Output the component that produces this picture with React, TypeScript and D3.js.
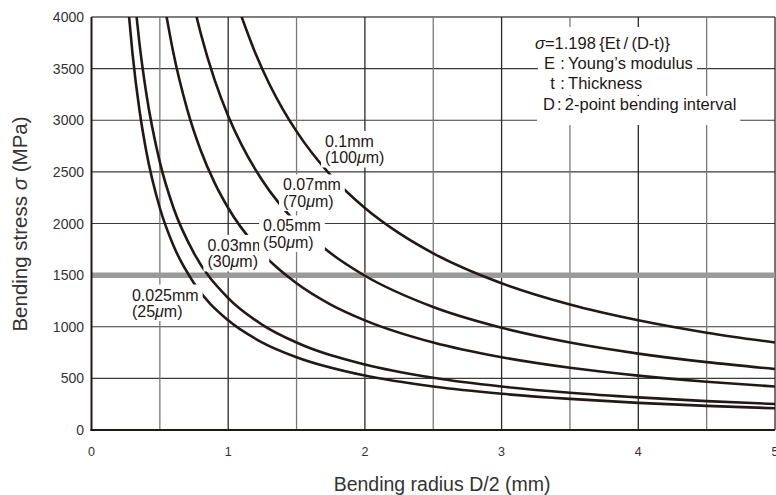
import React, { useEffect, useRef } from 'react';
import * as d3 from 'd3';

const width = 776;
const height = 495;
const font = '"Liberation Sans", Arial, Helvetica, sans-serif';
const ink = '#231815';

const xTicks = [0, 1, 2, 3, 4, 5];
const xGrid = [0.5, 1, 1.5, 2, 2.5, 3, 3.5, 4, 4.5, 5];
const yTicks = [0, 500, 1000, 1500, 2000, 2500, 3000, 3500, 4000];
const limitStress = 1500;

// bending radius D/2 (mm) and stress (MPa)
const radius025 = [0.27, 0.3, 0.35, 0.4, 0.5, 0.6, 0.75, 1, 1.25, 1.5, 2, 2.5, 3, 3.5, 4, 4.5, 5];
const stress025 = [4071, 3646, 3106, 2705, 2150, 1784, 1421, 1062, 847, 705, 527, 421, 351, 301, 263, 234, 210];

const radius030 = [0.32, 0.35, 0.4, 0.5, 0.6, 0.75, 1, 1.25, 1.5, 2, 2.5, 3, 3.5, 4, 4.5, 5];
const stress030 = [4124, 3755, 3267, 2594, 2150, 1711, 1277, 1019, 847, 634, 506, 421, 361, 316, 280, 252];

const radius050 = [0.54, 0.6, 0.7, 0.8, 0.9, 1, 1.25, 1.5, 1.75, 2, 2.5, 3, 3.5, 4, 4.5, 5];
const stress050 = [4071, 3646, 3106, 2705, 2396, 2150, 1711, 1421, 1215, 1062, 847, 705, 603, 527, 468, 421];

const radius070 = [0.76, 0.8, 0.9, 1, 1.1, 1.25, 1.5, 1.75, 2, 2.5, 3, 3.5, 4, 4.5, 5];
const stress070 = [4048, 3837, 3393, 3041, 2756, 2416, 2003, 1711, 1494, 1191, 990, 847, 740, 657, 591];

const radius100 = [1.09, 1.2, 1.3, 1.4, 1.5, 1.75, 2, 2.25, 2.5, 3, 3.5, 4, 4.5, 5];
const stress100 = [4032, 3646, 3354, 3106, 2892, 2466, 2150, 1906, 1711, 1421, 1215, 1062, 942, 847];

const curveRadii = [radius025, radius030, radius050, radius070, radius100];
const curveStress = [stress025, stress030, stress050, stress070, stress100];

// curve labels: top line, micrometre value, anchor (radius, stress) of the top line's baseline
const labelMm = ['0.025mm', '0.03mm', '0.05mm', '0.07mm', '0.1mm'];
const labelUm = ['25', '30', '50', '70', '100'];
const labelR = [0.296, 0.848, 1.255, 1.401, 1.708];
const labelS = [1254, 1734, 1923, 2320, 2741];

const legendLetters = ['E', 't', 'D'];
const legendTexts = ['Young\u2019s modulus', 'Thickness', '2-point bending interval'];

export default function App() {
  const svgRef = useRef<SVGSVGElement>(null);

  useEffect(() => {
    const svg = d3.select(svgRef.current);
    svg.selectAll('*').remove();

    const x = d3.scaleLinear().domain([0, 5]).range([91.5, 775]);
    const y = d3.scaleLinear().domain([0, 4000]).range([430, 17]);
    const [x0, x1] = x.range();
    const [y0, y1] = y.range();

    svg.append('rect').attr('width', width).attr('height', height).attr('fill', '#fff');

    // horizontal grid
    svg
      .append('g')
      .selectAll('line')
      .data(yTicks.slice(1))
      .enter()
      .append('line')
      .attr('x1', x0)
      .attr('x2', x1)
      .attr('y1', (d) => y(d))
      .attr('y2', (d) => y(d))
      .attr('stroke', (d) => (d === 4000 ? '#555' : '#3a3a3a'))
      .attr('stroke-width', (d) => (d === 4000 ? 1.6 : 1.2));

    // vertical grid
    svg
      .append('g')
      .selectAll('line')
      .data(xGrid)
      .enter()
      .append('line')
      .attr('x1', (d) => x(d))
      .attr('x2', (d) => x(d))
      .attr('y1', y1)
      .attr('y2', y0)
      .attr('stroke', (d) => (d % 1 === 0 ? '#2a2a2a' : '#7a7a7a'))
      .attr('stroke-width', 1.3);

    // 1500 MPa reference line
    svg
      .append('line')
      .attr('x1', x0)
      .attr('x2', x1)
      .attr('y1', y(limitStress))
      .attr('y2', y(limitStress))
      .attr('stroke', '#9a9a9a')
      .attr('stroke-width', 5.5);

    // axes
    svg.append('line').attr('x1', x0).attr('x2', x0).attr('y1', y1).attr('y2', y0 + 1)
      .attr('stroke', ink).attr('stroke-width', 2);
    svg.append('line').attr('x1', x0 - 1).attr('x2', x1).attr('y1', y0).attr('y2', y0)
      .attr('stroke', ink).attr('stroke-width', 2);

    // curves
    svg
      .append('clipPath')
      .attr('id', 'plot-clip')
      .append('rect')
      .attr('x', x0)
      .attr('y', y1)
      .attr('width', x1 - x0)
      .attr('height', y0 - y1);

    curveRadii.forEach((radii, k) => {
      const stress = curveStress[k];
      const path = d3
        .line<number>()
        .x((d) => x(d))
        .y((d, i) => y(stress[i]))
        .curve(d3.curveMonotoneX);
      svg
        .append('path')
        .attr('d', path(radii))
        .attr('clip-path', 'url(#plot-clip)')
        .attr('fill', 'none')
        .attr('stroke', ink)
        .attr('stroke-width', 2.6);
    });

    // tick labels
    svg
      .append('g')
      .selectAll('text')
      .data(yTicks)
      .enter()
      .append('text')
      .attr('x', 84)
      .attr('y', (d) => y(d))
      .attr('dy', '0.36em')
      .attr('text-anchor', 'end')
      .attr('font-size', 14)
      .attr('fill', '#333')
      .text((d) => d);

    svg
      .append('g')
      .selectAll('text')
      .data(xTicks)
      .enter()
      .append('text')
      .attr('x', (d) => x(d))
      .attr('y', 456)
      .attr('text-anchor', 'middle')
      .attr('font-size', 12.5)
      .attr('fill', '#333')
      .text((d) => d);

    // axis titles
    svg
      .append('text')
      .attr('x', 442)
      .attr('y', 491)
      .attr('text-anchor', 'middle')
      .attr('font-size', 19.5)
      .attr('fill', '#333')
      .text('Bending radius D/2 (mm)');

    const yTitle = svg
      .append('text')
      .attr('transform', 'translate(27,224) rotate(-90)')
      .attr('text-anchor', 'middle')
      .attr('font-size', 20.5)
      .attr('fill', '#333');
    yTitle.append('tspan').text('Bending stress ');
    yTitle.append('tspan').attr('font-style', 'italic').text('\u03c3');
    yTitle.append('tspan').text(' (MPa)');

    // curve labels with white backing
    labelMm.forEach((mm, k) => {
      const g = svg.append('g');
      const lx = x(labelR[k]);
      const ly = y(labelS[k]);
      const t = g
        .append('text')
        .attr('font-size', 16)
        .attr('fill', ink);
      t.append('tspan').attr('x', lx).attr('y', ly).text(mm);
      const t2 = t.append('tspan').attr('x', lx).attr('y', ly + 16.5);
      t2.append('tspan').text('(' + labelUm[k]);
      t2.append('tspan').attr('font-style', 'italic').text('\u03bc');
      t2.append('tspan').text('m)');
      const b = (t.node() as SVGTextElement).getBBox();
      g.insert('rect', 'text')
        .attr('x', b.x - 4)
        .attr('y', b.y - 2)
        .attr('width', b.width + 8)
        .attr('height', b.height + 3)
        .attr('fill', '#fff');
    });

    // formula block: white backings first, then the text lines
    const fx = x(3.244);
    const lx = x(3.39);
    const baselines = [y(3690), y(3492), y(3303), y(3099)];
    const backs = svg.append('g').attr('fill', '#fff');
    const fg = svg.append('g').attr('font-size', 16.5).attr('fill', ink);

    const f1 = fg.append('text').attr('x', fx).attr('y', baselines[0]);
    f1.append('tspan').attr('font-style', 'italic').text('\u03c3');
    f1.append('tspan').text('=1.198\u2009{Et\u2009/\u2009(D-t)}');
    const b1 = (f1.node() as SVGTextElement).getBBox();
    backs
      .append('rect')
      .attr('x', b1.x - 5)
      .attr('y', baselines[0] - 22)
      .attr('width', b1.width + 8)
      .attr('height', 30);

    legendLetters.forEach((letter, i) => {
      const by = baselines[i + 1];
      const t = fg
        .append('text')
        .attr('x', lx)
        .attr('y', by)
        .attr('text-anchor', 'end')
        .text(letter);
      const rest = fg
        .append('text')
        .attr('x', lx + 2)
        .attr('y', by)
        .text((i === 2 ? ':\u2009' : '\u2009:\u2009') + legendTexts[i]);
      const bl = (t.node() as SVGTextElement).getBBox();
      const br = (rest.node() as SVGTextElement).getBBox();
      const left = Math.min(bl.x, br.x) - 6;
      const right = br.x + br.width + 4;
      const top = by - 14;
      const bottom = i === 2 ? by + 15 : by + 6;
      backs
        .append('rect')
        .attr('x', left)
        .attr('y', top)
        .attr('width', right - left)
        .attr('height', bottom - top);
    });
  }, []);

  return (
    <svg
      ref={svgRef}
      width={width}
      height={height}
      fontFamily={font}
      style={{ position: 'absolute', left: 0, top: 0 }}
    />
  );
}
